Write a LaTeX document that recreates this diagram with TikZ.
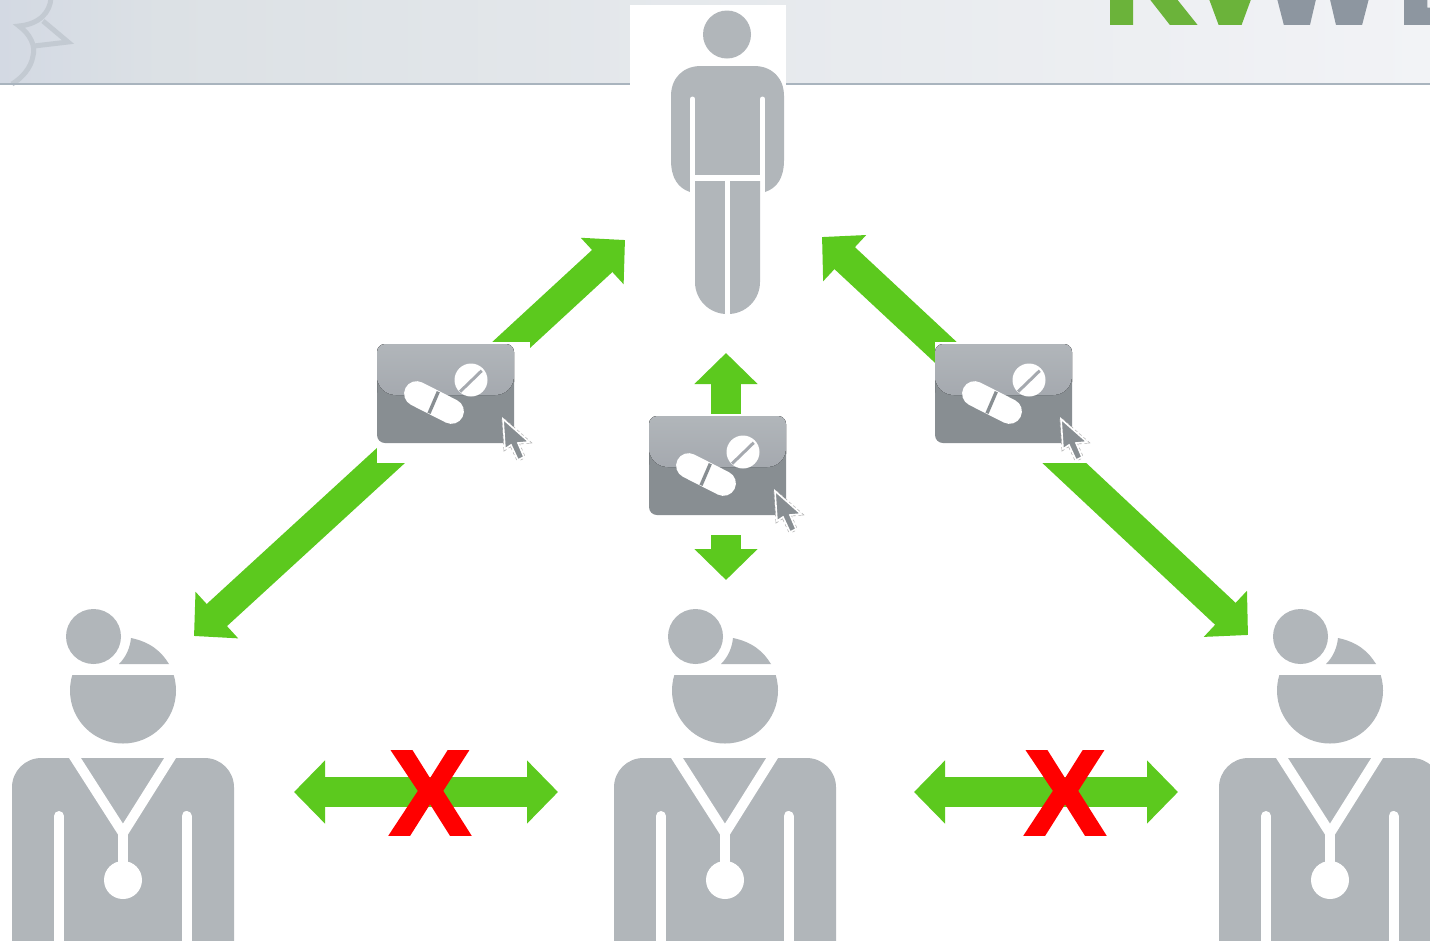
\documentclass[tikz,border=0pt]{standalone}
\usepackage{xcolor}
\usepackage{fontspec}
\usepackage{tikz}
\usetikzlibrary{arrows.meta}
\setmainfont{Liberation Sans}
\newfontface\logoface[FakeBold=4]{Liberation Sans Bold}
\newfontface\crossface[FakeBold=2.5]{Liberation Sans Bold}
\definecolor{figgray}{HTML}{B1B6BA}
\definecolor{flowgreen}{HTML}{5CC91E}
\definecolor{logogreen}{HTML}{6BB33A}
\definecolor{logogray}{HTML}{8D96A0}
\definecolor{swoosh}{HTML}{C3CAD2}
\definecolor{pilldark}{HTML}{888E92}
\definecolor{pillband}{HTML}{A5A9AF}
\definecolor{headA}{HTML}{D3D9E3}
\definecolor{headB}{HTML}{DCE1E5}
\definecolor{headC}{HTML}{F2F3F6}
\definecolor{headline}{HTML}{A9B4BE}

\tikzset{
  slit/.style={white,line width=7.5pt},
  bigarrow/.style={line width=22.5pt,draw=flowgreen,-{Triangle[length=23.25pt,width=46pt]}},
  pairarrow/.style={line width=22.5pt,draw=flowgreen,{Triangle[length=23.25pt,width=46pt]}-{Triangle[length=23.25pt,width=46pt]}},
  xmark/.style={text=red,inner sep=0pt,font=\fontsize{90}{90}\crossface},
  logo/.style={inner sep=0pt,font=\fontsize{94}{94}\logoface},
  pillslot/.style={fill=white,minimum width=114.75pt,minimum height=90.75pt,inner sep=0pt},
  pillbox/.style={fill=pilldark,rounded corners=6pt,minimum width=102.75pt,minimum height=74.25pt,inner sep=0pt},
  doctor/.pic={
    \fill[figgray] (93.5,636.5) circle (27.5);
    \fill[figgray] (131,638) .. controls (150,642) and (161,651) .. (169,664) -- (119,664) .. controls (126,657) and (130,648) .. (131,638) -- cycle;
    \begin{scope}
      \clip (60,675) rectangle (190,750);
      \fill[figgray] (123,690.5) circle (53);
    \end{scope}
    \fill[figgray,rounded corners=22pt] (12,1000) -- (12,758) -- (234,758) -- (234,1000) -- cycle;
    \draw[slit] (70.5,751) -- (123,833) -- (174.5,751);
    \draw[slit] (123,833) -- (123,870);
    \fill[white] (123,880) circle (19);
    \draw[slit,line cap=round] (59,816) -- (59,1000);
    \draw[slit,line cap=round] (186.5,816) -- (186.5,1000);
  },
  pillicon/.pic={
    \node[pillslot] (slot) at (76.5,58.5) {};
    \node[pillbox] (box) at (68.5,49.5) {};
    \fill[top color=figgray,bottom color=pillband,rounded corners=6pt] (0,30) -- (0,0) -- (137,0) -- (137,30) [rounded corners=14pt] -- (137,51) -- (0,51) -- cycle;
    \draw[white,line width=18.75pt,line cap=round] (39.6,49.65) -- (74.4,67.35);
    \draw[pilldark,line width=2.5pt] (61.3,47.7) -- (52,69.3);
    \fill[white] (94,36) circle (16.5);
    \draw[pillband,line width=2.25pt] (83,47.7) -- (104.7,26.7);
    \draw[gray!60,line width=2.2pt,dotted] (126,75) -- (128,105) -- (134,101) -- (141,116) -- (147,113) -- (141,99) -- (152,98) -- cycle;
    \draw[white,line width=1.2pt,fill=pilldark] (126,75) -- (128,105) -- (134,101) -- (141,116) -- (147,113) -- (141,99) -- (152,98) -- cycle;
  }
}

\begin{document}
\begin{tikzpicture}[x=0.75pt,y=-0.75pt]
\clip (0,0) rectangle (1430,940);
\fill[white] (0,0) rectangle (1430,940);

% header band
\shade[left color=headA,right color=headB] (0,0) rectangle (160,83);
\shade[left color=headB,right color=headC] (160,0) rectangle (1430,83);
\draw[swoosh,line width=3.75pt] (51,-2) .. controls (50,12) and (40,24) .. (19,26) .. controls (30,34) and (36,46) .. (33,56) .. controls (31,68) and (22,78) .. (12,84);
\draw[swoosh,line width=3.75pt] (43,21) -- (68,42) -- (34,46);
\fill[headline] (0,83) rectangle (1430,85);
\begin{scope}
  \clip (1100,0) rectangle (1430,24);
  \node[logo,text=logogreen,anchor=base west] (logoK) at (1104,24) {K};
  \node[logo,text=logogreen,anchor=base] (logoV) at (1230,24) {V};
  \node[logo,text=logogray,anchor=base] (logoW) at (1323,24) {W};
  \node[logo,text=logogray,anchor=base west] (logoL) at (1398,24) {L};
\end{scope}

% patient
\fill[white] (630,5) rectangle (786,90);
\fill[figgray] (727,34.5) circle (24);
\fill[figgray] (690,192) .. controls (678,188) and (671,178) .. (671,160) -- (671,96) .. controls (671,78) and (683,66) .. (701,66) -- (754,66) .. controls (772,66) and (784,78) .. (784,96) -- (784,160) .. controls (784,178) and (777,188) .. (765,192) -- cycle;
\draw[slit,line width=3.75pt,line cap=round] (692.5,99) -- (692.5,195);
\draw[slit,line width=3.75pt,line cap=round] (762.5,99) -- (762.5,195);
\fill[white] (690,175) rectangle (765,194);
\fill[figgray] (695,181) -- (760,181) [rounded corners=24pt] -- (760,314) -- (695,314) [sharp corners] -- cycle;
\fill[white] (724.5,181) rectangle (729.5,315);

% hubs and arrow tips
\coordinate (hubL) at (446,405);
\coordinate (hubC) at (726,475);
\coordinate (hubR) at (1005,407.5);
\coordinate (tipUL) at (625,240);
\coordinate (tipDL) at (194,636);
\coordinate (tipUC) at (726,353);
\coordinate (tipDC) at (726,580);
\coordinate (tipUR) at (822,237);
\coordinate (tipDR) at (1248,635);
\coordinate (pairA) at (294,792);
\coordinate (pairB) at (558,792);
\coordinate (pairC) at (914,792);
\coordinate (pairD) at (1178,792);

\draw[bigarrow] (hubL) -- (tipUL);
\draw[bigarrow] (hubL) -- (tipDL);
\draw[bigarrow] (hubC) -- (tipUC);
\draw[bigarrow] (hubC) -- (tipDC);
\draw[bigarrow] (hubR) -- (tipUR);
\draw[bigarrow] (hubR) -- (tipDR);
\draw[pairarrow] (pairA) -- (pairB);
\draw[pairarrow] (pairC) -- (pairD);

% pill icons and doctors
\foreach \name/\cx/\cy in {pillL/377/344,pillC/649/416,pillR/935/344}
  \pic (\name) at (\cx,\cy) {pillicon};
\foreach \name/\dx in {docL/0,docC/602,docR/1207}
  \pic (\name) at (\dx,0) {doctor};

\node[xmark] (crossL) at (430,793) {X};
\node[xmark] (crossR) at (1065,793) {X};
\end{tikzpicture}
\end{document}
